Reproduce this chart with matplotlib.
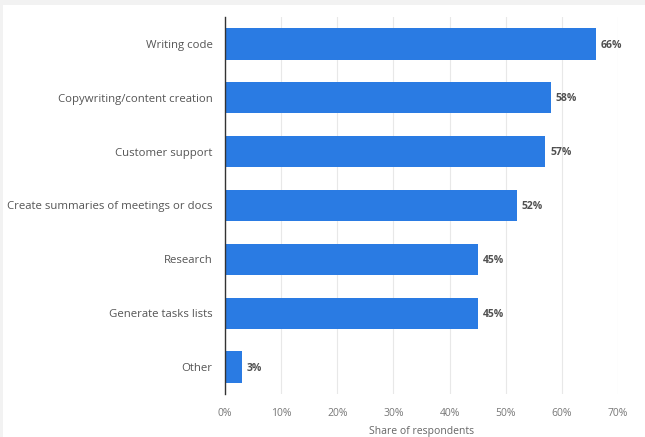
import numpy as np
import matplotlib.pyplot as plt

# data
categories = ["Writing code", "Copywriting/content creation", "Customer support",
              "Create summaries of meetings or docs", "Research",
              "Generate tasks lists", "Other"]
values = [66, 58, 57, 52, 45, 45, 3]
xticks = [0, 10, 20, 30, 40, 50, 60, 70]

plt.rcParams['font.family'] = ['Open Sans', 'DejaVu Sans']

fig = plt.figure(figsize=(6.45, 4.37), dpi=100, facecolor="#f2f2f2")
# white panel
fig.patches.append(plt.Rectangle((3 / 645, 0), 1, 1 - 5 / 437, transform=fig.transFigure,
                                 facecolor="white", edgecolor="none", zorder=-10))
ax = fig.add_axes([225 / 645, 1 - 394 / 437, 393 / 645, 377 / 437])
ax.set_facecolor("white")

y = np.arange(len(categories))
ax.barh(y, values, height=0.58, color="#2a7be3", zorder=3)
for yi, v in zip(y, values):
    ax.text(v + 0.9, yi + 0.02, f"{v}%", va="center", ha="left", fontsize=7.5,
            fontweight="bold", color="#505050")

ax.set_ylim(len(categories) - 0.5, -0.5)
ax.set_yticks(y)
ax.set_yticklabels(categories, fontsize=8.2, color="#555555")
ax.tick_params(axis="y", length=0, pad=9)

ax.set_xlim(0, 70)
ax.set_xticks(xticks)
ax.set_xticklabels([f"{t}%" for t in xticks], fontsize=7.5, color="#777777")
ax.tick_params(axis="x", length=0, pad=10)
ax.set_xlabel("Share of respondents", fontsize=7.5, color="#666666", labelpad=5)

ax.grid(axis="x", color="#e8e8e8", linewidth=0.8, zorder=0)
for s in ["top", "right", "bottom"]:
    ax.spines[s].set_visible(False)
ax.spines["left"].set_color("#333333")
ax.spines["left"].set_linewidth(1)
ax.spines["left"].set_zorder(4)

fig.savefig("out.png", dpi=100, facecolor=fig.get_facecolor())
